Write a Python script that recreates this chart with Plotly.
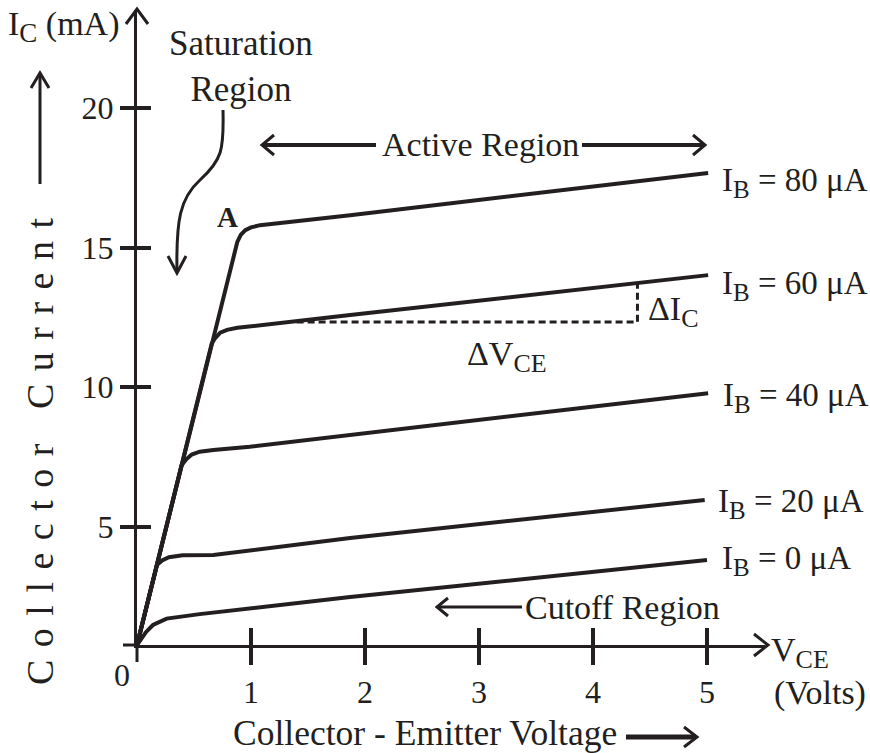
import plotly.graph_objects as go

# ---------------- data ----------------
vce_ib0 = [0, 0.04, 0.08, 0.14, 0.26, 0.55, 1.87, 5.00]
ic_ib0 = [0.75, 1.00, 1.22, 1.47, 1.70, 1.86, 2.47, 3.80]
vce_ib20 = [0, 0.175, 0.22, 0.28, 0.40, 0.67, 1.87, 4.98]
ic_ib20 = [0.75, 3.62, 3.78, 3.90, 3.97, 3.98, 4.59, 5.95]
vce_ib40 = [0, 0.39, 0.43, 0.48, 0.55, 0.67, 0.99, 5.01]
ic_ib40 = [0.75, 7.18, 7.40, 7.58, 7.68, 7.74, 7.86, 9.78]
vce_ib60 = [0, 0.655, 0.68, 0.73, 0.79, 0.88, 1.87, 5.01]
ic_ib60 = [0.75, 11.55, 11.72, 11.95, 12.05, 12.12, 12.58, 14.01]
vce_ib80 = [0, 0.855, 0.88, 0.91, 0.95, 1.00, 1.08, 1.87, 5.01]
ic_ib80 = [0.75, 14.86, 15.20, 15.45, 15.62, 15.72, 15.80, 16.16, 17.67]
base_currents = [0, 20, 40, 60, 80]
delta_vce = [1.40, 4.39, 4.39]
delta_ic = [12.33, 12.33, 13.73]
x_ticks = [1, 2, 3, 4, 5]
y_ticks = [5, 10, 15, 20]

# ---------------- layout geometry ----------------
W, H = 870, 753
L, R, T, B = 137, 765, 10, 645
PX_PER_V = 114.0
PX_PER_MA = 27.9
Y_ZERO_PX = 666
x_range = [0, (R - L) / PX_PER_V]
y_range = [(Y_ZERO_PX - B) / PX_PER_MA, (Y_ZERO_PX - T) / PX_PER_MA]

INK = "#231f20"
FONT = "Liberation Serif"
FS = 34


def sub(t, size=26):
    return f'<sub><span style="font-size:{size}px">{t}</span></sub>'


def xp(px):
    return (px - L) / (R - L)


def yp(py):
    return (B - py) / (B - T)


def path(points):
    s = ""
    for i, (a, b) in enumerate(points):
        c = "M" if i == 0 else "L"
        s += f"{c}{xp(a):.5f},{yp(b):.5f} "
    return s.strip()


fig = go.Figure()

curves = [(vce_ib0, ic_ib0), (vce_ib20, ic_ib20), (vce_ib40, ic_ib40),
          (vce_ib60, ic_ib60), (vce_ib80, ic_ib80)]
for ib, (vx, vy) in zip(base_currents, curves):
    fig.add_trace(go.Scatter(x=vx, y=vy, mode="lines", name=f"IB={ib}",
                             line=dict(color=INK, width=4), showlegend=False,
                             hoverinfo="skip"))

fig.add_trace(go.Scatter(x=delta_vce, y=delta_ic, mode="lines",
                         line=dict(color=INK, width=3, dash="7px,4px"),
                         showlegend=False, hoverinfo="skip"))

# empty traces to realise the overlay axes used for the inner tick halves
fig.add_trace(go.Scatter(x=[], y=[], xaxis="x2", yaxis="y", showlegend=False))
fig.add_trace(go.Scatter(x=[], y=[], xaxis="x", yaxis="y2", showlegend=False))

tickfont = dict(family=FONT, size=32, color=INK)
fig.update_layout(
    width=W, height=H,
    margin=dict(l=L, r=W - R, t=T, b=H - B, pad=0),
    paper_bgcolor="white", plot_bgcolor="white",
    showlegend=False,
    xaxis=dict(range=x_range, showgrid=False, zeroline=False, showline=True,
               linecolor=INK, linewidth=3, ticks="outside", ticklen=17,
               tickwidth=4, tickcolor=INK, tickvals=x_ticks,
               ticktext=[str(v) for v in x_ticks], tickfont=tickfont,
               fixedrange=True),
    yaxis=dict(range=y_range, showgrid=False, zeroline=False, showline=True,
               linecolor=INK, linewidth=3, ticks="outside", ticklen=14,
               tickwidth=4, tickcolor=INK, tickvals=y_ticks,
               ticktext=[str(v) for v in y_ticks], tickfont=tickfont,
               fixedrange=True),
    xaxis2=dict(range=x_range, overlaying="x", anchor="y", side="bottom",
                showgrid=False, zeroline=False, showline=False,
                ticks="inside", ticklen=17, tickwidth=4, tickcolor=INK,
                tickvals=x_ticks, showticklabels=False),
    yaxis2=dict(range=y_range, overlaying="y", anchor="x", side="left",
                showgrid=False, zeroline=False, showline=False,
                ticks="inside", ticklen=14, tickwidth=4, tickcolor=INK,
                tickvals=y_ticks, showticklabels=False),
)

line = dict(color=INK, width=3)
shapes = []
# axis extensions past the origin
shapes.append(dict(type="path", xref="paper", yref="paper",
                   path=path([(L, B), (L, 662)]), line=line))
shapes.append(dict(type="path", xref="paper", yref="paper",
                   path=path([(123, B), (L, B)]), line=line))
# axis arrowheads
shapes.append(dict(type="path", xref="paper", yref="paper",
                   path=path([(754, 634), (768, B), (754, 656)]), line=line))
shapes.append(dict(type="path", xref="paper", yref="paper",
                   path=path([(126, 24), (L, 9), (148, 24)]), line=line))
# Active region arrows
shapes.append(dict(type="path", xref="paper", yref="paper",
                   path=path([(262, 145), (376, 145)]), line=dict(color=INK, width=4)))
shapes.append(dict(type="path", xref="paper", yref="paper",
                   path=path([(274, 135), (262, 145), (274, 155)]), line=line))
shapes.append(dict(type="path", xref="paper", yref="paper",
                   path=path([(582, 145), (705, 145)]), line=dict(color=INK, width=4)))
shapes.append(dict(type="path", xref="paper", yref="paper",
                   path=path([(693, 135), (705, 145), (693, 155)]), line=line))
# Cutoff arrow
shapes.append(dict(type="path", xref="paper", yref="paper",
                   path=path([(437, 607), (522, 607)]), line=line))
shapes.append(dict(type="path", xref="paper", yref="paper",
                   path=path([(448, 598), (437, 607), (448, 616)]), line=line))
# x title arrow
shapes.append(dict(type="path", xref="paper", yref="paper",
                   path=path([(626, 737), (696, 737)]), line=dict(color=INK, width=5)))
shapes.append(dict(type="path", xref="paper", yref="paper",
                   path=path([(684, 727), (697, 737), (684, 747)]), line=line))
# y title arrow
shapes.append(dict(type="path", xref="paper", yref="paper",
                   path=path([(40, 184), (40, 73)]), line=line))
shapes.append(dict(type="path", xref="paper", yref="paper",
                   path=path([(31, 88), (40, 73), (49, 88)]), line=line))
# saturation curly arrow
curl = (f"M{xp(223):.5f},{yp(110):.5f} C{xp(224):.5f},{yp(150):.5f} "
        f"{xp(222):.5f},{yp(160):.5f} {xp(200):.5f},{yp(180):.5f} "
        f"C{xp(180):.5f},{yp(198):.5f} {xp(176):.5f},{yp(220):.5f} "
        f"{xp(177):.5f},{yp(272):.5f}")
shapes.append(dict(type="path", xref="paper", yref="paper", path=curl, line=line))
shapes.append(dict(type="path", xref="paper", yref="paper",
                   path=path([(168, 256), (177, 273), (186, 256)]), line=line))
fig.update_layout(shapes=shapes)


def ann(text, px, py, size=FS, xanchor="left", yanchor="middle", angle=0, bold=False):
    if bold:
        text = f"<b>{text}</b>"
    fig.add_annotation(text=text, x=xp(px), y=yp(py), xref="paper", yref="paper",
                       showarrow=False, xanchor=xanchor, yanchor=yanchor,
                       textangle=angle,
                       font=dict(family=FONT, size=size, color=INK))


ann(f"I{sub('C', 27)} (mA)", 6, 26, size=34)
ann("Saturation<br>Region", 241, 66, size=35, xanchor="center")
ann("A", 227, 217, size=29, xanchor="center", bold=True)
ann("Active Region", 480, 145, xanchor="center")
label_pos = {80: (720, 182), 60: (720, 285), 40: (721, 398), 20: (716, 503), 0: (720, 560)}
for ib in base_currents:
    px, py = label_pos[ib]
    ann(f"I{sub('B', 25)} = {ib} μA", px, py, size=33)
ann(f"ΔI{sub('C')}", 646, 311)
ann(f"ΔV{sub('CE')}", 465, 356)
ann("Cutoff Region", 523, 607)
ann(f"V{sub('CE')}", 769, 652)
ann("(Volts)", 772, 693)
ann("Collector - Emitter Voltage", 231, 733, size=35.5)
ann("0", 122, 675, size=32, xanchor="center")
ann('<span style="letter-spacing:12.5px">Collector Current</span>', 40, 446,
    size=38, xanchor="center", angle=-90)

fig.write_html("out.html")
